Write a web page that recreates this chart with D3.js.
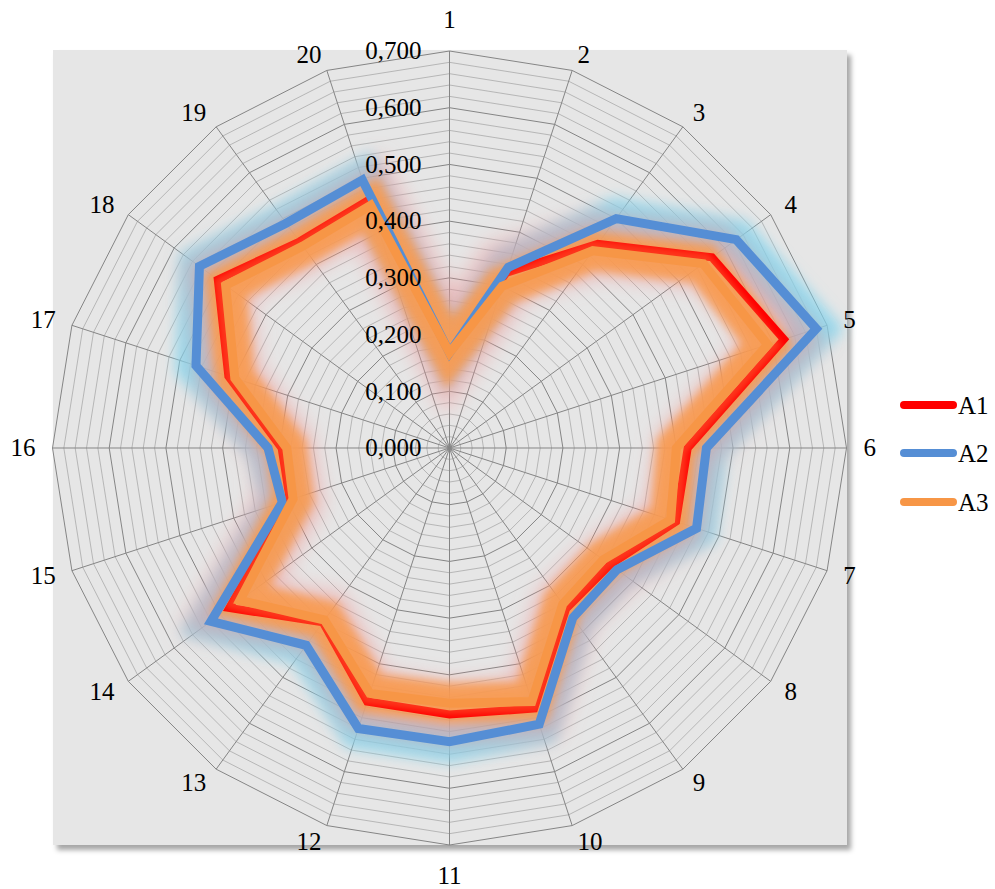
<!DOCTYPE html>
<html><head><meta charset="utf-8">
<script src="https://cdn.jsdelivr.net/npm/d3@7"></script>
<style>body{margin:0;background:#fff}svg{display:block}
text{font-family:"Liberation Serif","Times New Roman","DejaVu Serif",serif;}</style>
</head><body><svg id="c" width="995" height="889"></svg>
<script>
// ---- data ----
const categories = ["1","2","3","4","5","6","7","8","9","10","11","12","13","14","15","16","17","18","19","20"];
const seriesNames = ["A1","A2","A3"];
const a1 = [0.168,0.325,0.445,0.572,0.620,0.420,0.420,0.350,0.350,0.483,0.470,0.470,0.380,0.480,0.296,0.296,0.410,0.505,0.450,0.460];
const a2 = [0.168,0.335,0.500,0.625,0.680,0.453,0.458,0.365,0.370,0.512,0.518,0.520,0.430,0.520,0.310,0.320,0.470,0.545,0.490,0.497];
const a3 = [0.168,0.300,0.430,0.553,0.590,0.400,0.410,0.335,0.340,0.470,0.450,0.455,0.375,0.457,0.290,0.287,0.398,0.488,0.440,0.450];
const tickValues = [0,0.1,0.2,0.3,0.4,0.5,0.6,0.7];
const tickLabels = ["0,000","0,100","0,200","0,300","0,400","0,500","0,600","0,700"];
const minorStep = 0.02;
const lineColors = ["#FF0000","#558ED5","#F79646"];
const glowColors = ["#F29090","#7DD6F0","#F89A4C"];

// ---- layout ----
const svg = d3.select("#c");
const cx = 449.5, cy = 448, R = 397;
const r = d3.scaleLinear().domain([0,0.7]).range([0,R]);
const n = categories.length;
const ang = d3.scaleLinear().domain([0,n]).range([0,2*Math.PI]);

const defs = svg.append("defs");
const sh = defs.append("filter").attr("id","shadow").attr("x","-5%").attr("y","-5%").attr("width","115%").attr("height","115%");
sh.append("feDropShadow").attr("dx",4).attr("dy",5).attr("stdDeviation",2.5).attr("flood-color","#000").attr("flood-opacity",0.35);
function blurF(id, s){
  defs.append("filter").attr("id",id).attr("filterUnits","userSpaceOnUse")
    .attr("x",-500).attr("y",-500).attr("width",1000).attr("height",1000)
    .append("feGaussianBlur").attr("stdDeviation",s);
}
blurF("b1",10); blurF("b2",7); blurF("b3",5); blurF("b4",3);

svg.append("rect").attr("x",53).attr("y",50).attr("width",794).attr("height",795)
  .attr("fill","#E6E6E6").attr("filter","url(#shadow)");

const g = svg.append("g").attr("transform",`translate(${cx},${cy})`);
const ring = d3.lineRadial().angle((d,i)=>ang(i)).radius(d=>r(d)).curve(d3.curveLinearClosed);

// minor gridlines
const minors = d3.range(1, Math.round(0.7/minorStep)+1).map(k=>k*minorStep)
  .filter(v => Math.abs(v*10 - Math.round(v*10)) > 1e-6);
g.selectAll(".minor").data(minors).join("path")
  .attr("d", v => ring(categories.map(()=>v)))
  .attr("fill","none").attr("stroke","#A9A9A9").attr("stroke-width",0.8);
// major gridlines
g.selectAll(".major").data(tickValues.filter(v=>v>0)).join("path")
  .attr("d", v => ring(categories.map(()=>v)))
  .attr("fill","none").attr("stroke","#858585").attr("stroke-width",1);
// spokes
g.selectAll(".spoke").data(categories).join("line")
  .attr("x1",0).attr("y1",0)
  .attr("x2",(d,i)=>r(0.7)*Math.sin(ang(i))).attr("y2",(d,i)=>-r(0.7)*Math.cos(ang(i)))
  .attr("stroke","#858585").attr("stroke-width",1);

// series
const series = [a1,a2,a3];
function glow(i, w, op, f){
  g.append("path").attr("d", ring(series[i])).attr("fill","none")
    .attr("stroke",glowColors[i]).attr("stroke-width",w).attr("stroke-opacity",op)
    .attr("stroke-linejoin","miter").attr("filter",`url(#${f})`);
}
function line(i, w){
  g.append("path").attr("d", ring(series[i])).attr("fill","none")
    .attr("stroke",lineColors[i]).attr("stroke-width",w).attr("stroke-linejoin","miter");
}
glow(1, 40, 0.8, "b2");
glow(0, 64, 0.5, "b1");
glow(2, 40, 0.85, "b3");
line(0, 8);
glow(2, 22, 0.35, "b4");
line(1, 9);
line(2, 9);

// value labels
g.selectAll(".vl").data(tickValues).join("text")
  .attr("x",-28).attr("y",v=>-r(v)).attr("dy","0.33em")
  .attr("text-anchor","end").attr("font-size",25).attr("fill","#000")
  .text((v,i)=>tickLabels[i]);

// category labels
const off = 17;
g.selectAll(".cl").data(categories).join("text")
  .each(function(d,i){
    const a = ang(i), s = Math.sin(a), c = Math.cos(a);
    const px = (R+off)*s, py = -(R+off)*c;
    const t = d3.select(this);
    if (Math.abs(s) < 0.01){
      t.attr("x",px).attr("y", py + (c>0 ? -14 : 14)).attr("text-anchor","middle");
    } else {
      t.attr("x",px).attr("y",py).attr("text-anchor", s>0 ? "start" : "end");
    }
  })
  .attr("dy","0.33em").attr("font-size",25).attr("fill","#000")
  .text(d=>d);

// legend
const lg = svg.append("g");
const ly = [405,453,502];
seriesNames.forEach((nm,i)=>{
  lg.append("line").attr("x1",904).attr("x2",953).attr("y1",ly[i]).attr("y2",ly[i])
    .attr("stroke",lineColors[i]).attr("stroke-width",8).attr("stroke-linecap","round");
  lg.append("text").attr("x",958).attr("y",ly[i]).attr("dy","0.36em")
    .attr("font-size",25).attr("fill","#000").text(nm);
});
</script></body></html>
